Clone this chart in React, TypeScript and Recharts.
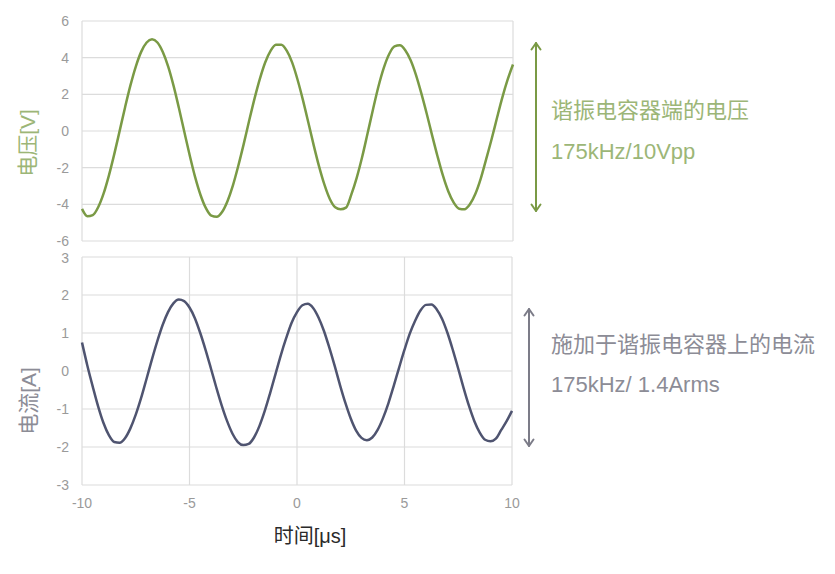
import { LineChart, Line, XAxis, YAxis, CartesianGrid } from "recharts";

// time axis [μs]
const time = [
  -10, -9.75, -9.5, -9.25, -9, -8.75, -8.5, -8.25, -8, -7.75, -7.5, -7.25, -7, -6.75, -6.5, -6.25,
  -6, -5.75, -5.5, -5.25, -5, -4.75, -4.5, -4.25, -4, -3.75, -3.5, -3.25, -3, -2.75, -2.5, -2.25,
  -2, -1.75, -1.5, -1.25, -1, -0.75, -0.5, -0.25, 0, 0.25, 0.5, 0.75, 1, 1.25, 1.5, 1.75,
  2, 2.25, 2.5, 2.75, 3, 3.25, 3.5, 3.75, 4, 4.25, 4.5, 4.75, 5, 5.25, 5.5, 5.75,
  6, 6.25, 6.5, 6.75, 7, 7.25, 7.5, 7.75, 8, 8.25, 8.5, 8.75, 9, 9.25, 9.5, 9.75, 10,
];

// voltage across the resonant capacitor [V]
const voltage = [
  -4.25, -4.65, -4.59, -4.16, -3.42, -2.42, -1.25, 0.02, 1.3, 2.5, 3.53, 4.33, 4.83, 5.0, 4.83, 4.31,
  3.51, 2.46, 1.24, -0.06, -1.34, -2.52, -3.49, -4.21, -4.62, -4.68, -4.42, -3.83, -2.98, -1.91, -0.73, 0.53,
  1.74, 2.83, 3.74, 4.37, 4.7, 4.71, 4.38, 3.74, 2.81, 1.7, 0.48, -0.77, -1.93, -2.93, -3.71, -4.16,
  -4.27, -4.18, -3.46, -2.54, -1.42, -0.14, 1.16, 2.4, 3.43, 4.19, 4.62, 4.68, 4.41, 3.86, 3.05, 2.04,
  0.93, -0.25, -1.39, -2.44, -3.3, -3.91, -4.24, -4.27, -4.0, -3.44, -2.61, -1.56, -0.48, 0.68, 1.81, 2.8, 3.63,
];

// current through the resonant capacitor [A]
const current = [
  0.75, 0.14, -0.41, -0.93, -1.37, -1.69, -1.87, -1.89, -1.77, -1.51, -1.15, -0.71, -0.21, 0.3, 0.78, 1.21,
  1.55, 1.78, 1.88, 1.84, 1.67, 1.39, 1.0, 0.55, 0.06, -0.44, -0.91, -1.32, -1.65, -1.87, -1.95, -1.92,
  -1.75, -1.45, -1.05, -0.58, -0.08, 0.42, 0.87, 1.27, 1.55, 1.73, 1.77, 1.66, 1.41, 1.06, 0.62, 0.14,
  -0.37, -0.84, -1.25, -1.57, -1.76, -1.82, -1.75, -1.55, -1.24, -0.85, -0.39, 0.09, 0.56, 0.99, 1.33, 1.6,
  1.74, 1.75, 1.62, 1.37, 1.0, 0.55, 0.06, -0.45, -0.92, -1.32, -1.62, -1.81, -1.85, -1.78, -1.55, -1.32, -1.05,
];

const xTicks = [-10, -5, 0, 5, 10];
const voltTicks = [-6, -4, -2, 0, 2, 4, 6];
const ampTicks = [-3, -2, -1, 0, 1, 2, 3];

const data = time.map((t, i) => ({ t, v: voltage[i], a: current[i] }));

const FONT = "'Liberation Sans', 'Noto Sans CJK SC', sans-serif";
const GREEN = "#7a9a45";
const GREEN_TEXT = "#9cb677";
const NAVY = "#4f5470";
const GRAY_TEXT = "#8c8c96";
const tickStyle = { fill: "#9a9a9a", fontSize: 14, fontFamily: FONT };

export default function App() {
  return (
    <div
      style={{
        position: "absolute",
        left: 0,
        top: 0,
        width: 835,
        height: 574,
        background: "#fff",
        fontFamily: FONT,
      }}
    >
      <div style={{ position: "absolute", left: 0, top: 0 }}>
        <LineChart width={835} height={250} data={data} margin={{ top: 21, right: 322, bottom: 9, left: 0 }}>
          <CartesianGrid stroke="#dcdcdc" strokeWidth={1.2} />
          <XAxis
            dataKey="t"
            type="number"
            domain={[-10, 10]}
            ticks={xTicks}
            height={0}
            tick={false}
            tickLine={false}
            axisLine={false}
          />
          <YAxis
            type="number"
            domain={[-6, 6]}
            ticks={voltTicks}
            width={82}
            tickLine={false}
            axisLine={false}
            tickMargin={7}
            tick={tickStyle}
          />
          <Line
            type="monotone"
            dataKey="v"
            stroke={GREEN}
            strokeWidth={2.5}
            dot={false}
            isAnimationActive={false}
          />
        </LineChart>
      </div>
      <div style={{ position: "absolute", left: 0, top: 250 }}>
        <LineChart width={835} height={300} data={data} margin={{ top: 7, right: 323, bottom: 35, left: 0 }}>
          <CartesianGrid stroke="#dcdcdc" strokeWidth={1.2} />
          <XAxis
            dataKey="t"
            type="number"
            domain={[-10, 10]}
            ticks={xTicks}
            height={30}
            tickLine={false}
            axisLine={false}
            tickMargin={7}
            tick={tickStyle}
          />
          <YAxis
            type="number"
            domain={[-3, 3]}
            ticks={ampTicks}
            width={82}
            tickLine={false}
            axisLine={false}
            tickMargin={7}
            tick={tickStyle}
          />
          <Line
            type="monotone"
            dataKey="a"
            stroke={NAVY}
            strokeWidth={2.5}
            dot={false}
            isAnimationActive={false}
          />
        </LineChart>
      </div>
      <svg
        width={835}
        height={574}
        style={{ position: "absolute", left: 0, top: 0, pointerEvents: "none" }}
        fontFamily={FONT}
      >
        {/* axis titles */}
        <text
          x={27}
          y={143}
          fill={GREEN_TEXT}
          fontSize={21}
          textAnchor="middle"
          dominantBaseline="central"
          transform="rotate(-90 27 143)"
        >
          电压[V]
        </text>
        <text
          x={28}
          y={401}
          fill={GRAY_TEXT}
          fontSize={21}
          textAnchor="middle"
          dominantBaseline="central"
          transform="rotate(-90 28 401)"
        >
          电流[A]
        </text>
        <text x={310} y={543} fill="#2a2a2a" fontSize={20} textAnchor="middle">
          时间[μs]
        </text>

        {/* voltage annotation */}
        <g stroke={GREEN} strokeWidth={2} fill="none" strokeLinecap="round" strokeLinejoin="round">
          <line x1={536} y1={43} x2={536} y2={211} />
          <polyline points="531.5,49.5 536,43 540.5,49.5" />
          <polyline points="531.5,204.5 536,211 540.5,204.5" />
        </g>
        <text x={551} y={118} fill={GREEN_TEXT} fontSize={22}>
          谐振电容器端的电压
        </text>
        <text x={551} y={159} fill={GREEN_TEXT} fontSize={22}>
          175kHz/10Vpp
        </text>

        {/* current annotation */}
        <g stroke="#7c7c88" strokeWidth={2} fill="none" strokeLinecap="round" strokeLinejoin="round">
          <line x1={529} y1={309} x2={529} y2={446} />
          <polyline points="524.5,315.5 529,309 533.5,315.5" />
          <polyline points="524.5,439.5 529,446 533.5,439.5" />
        </g>
        <text x={551} y={352} fill={GRAY_TEXT} fontSize={22}>
          施加于谐振电容器上的电流
        </text>
        <text x={551} y={392} fill={GRAY_TEXT} fontSize={22}>
          175kHz/ 1.4Arms
        </text>
      </svg>
    </div>
  );
}
